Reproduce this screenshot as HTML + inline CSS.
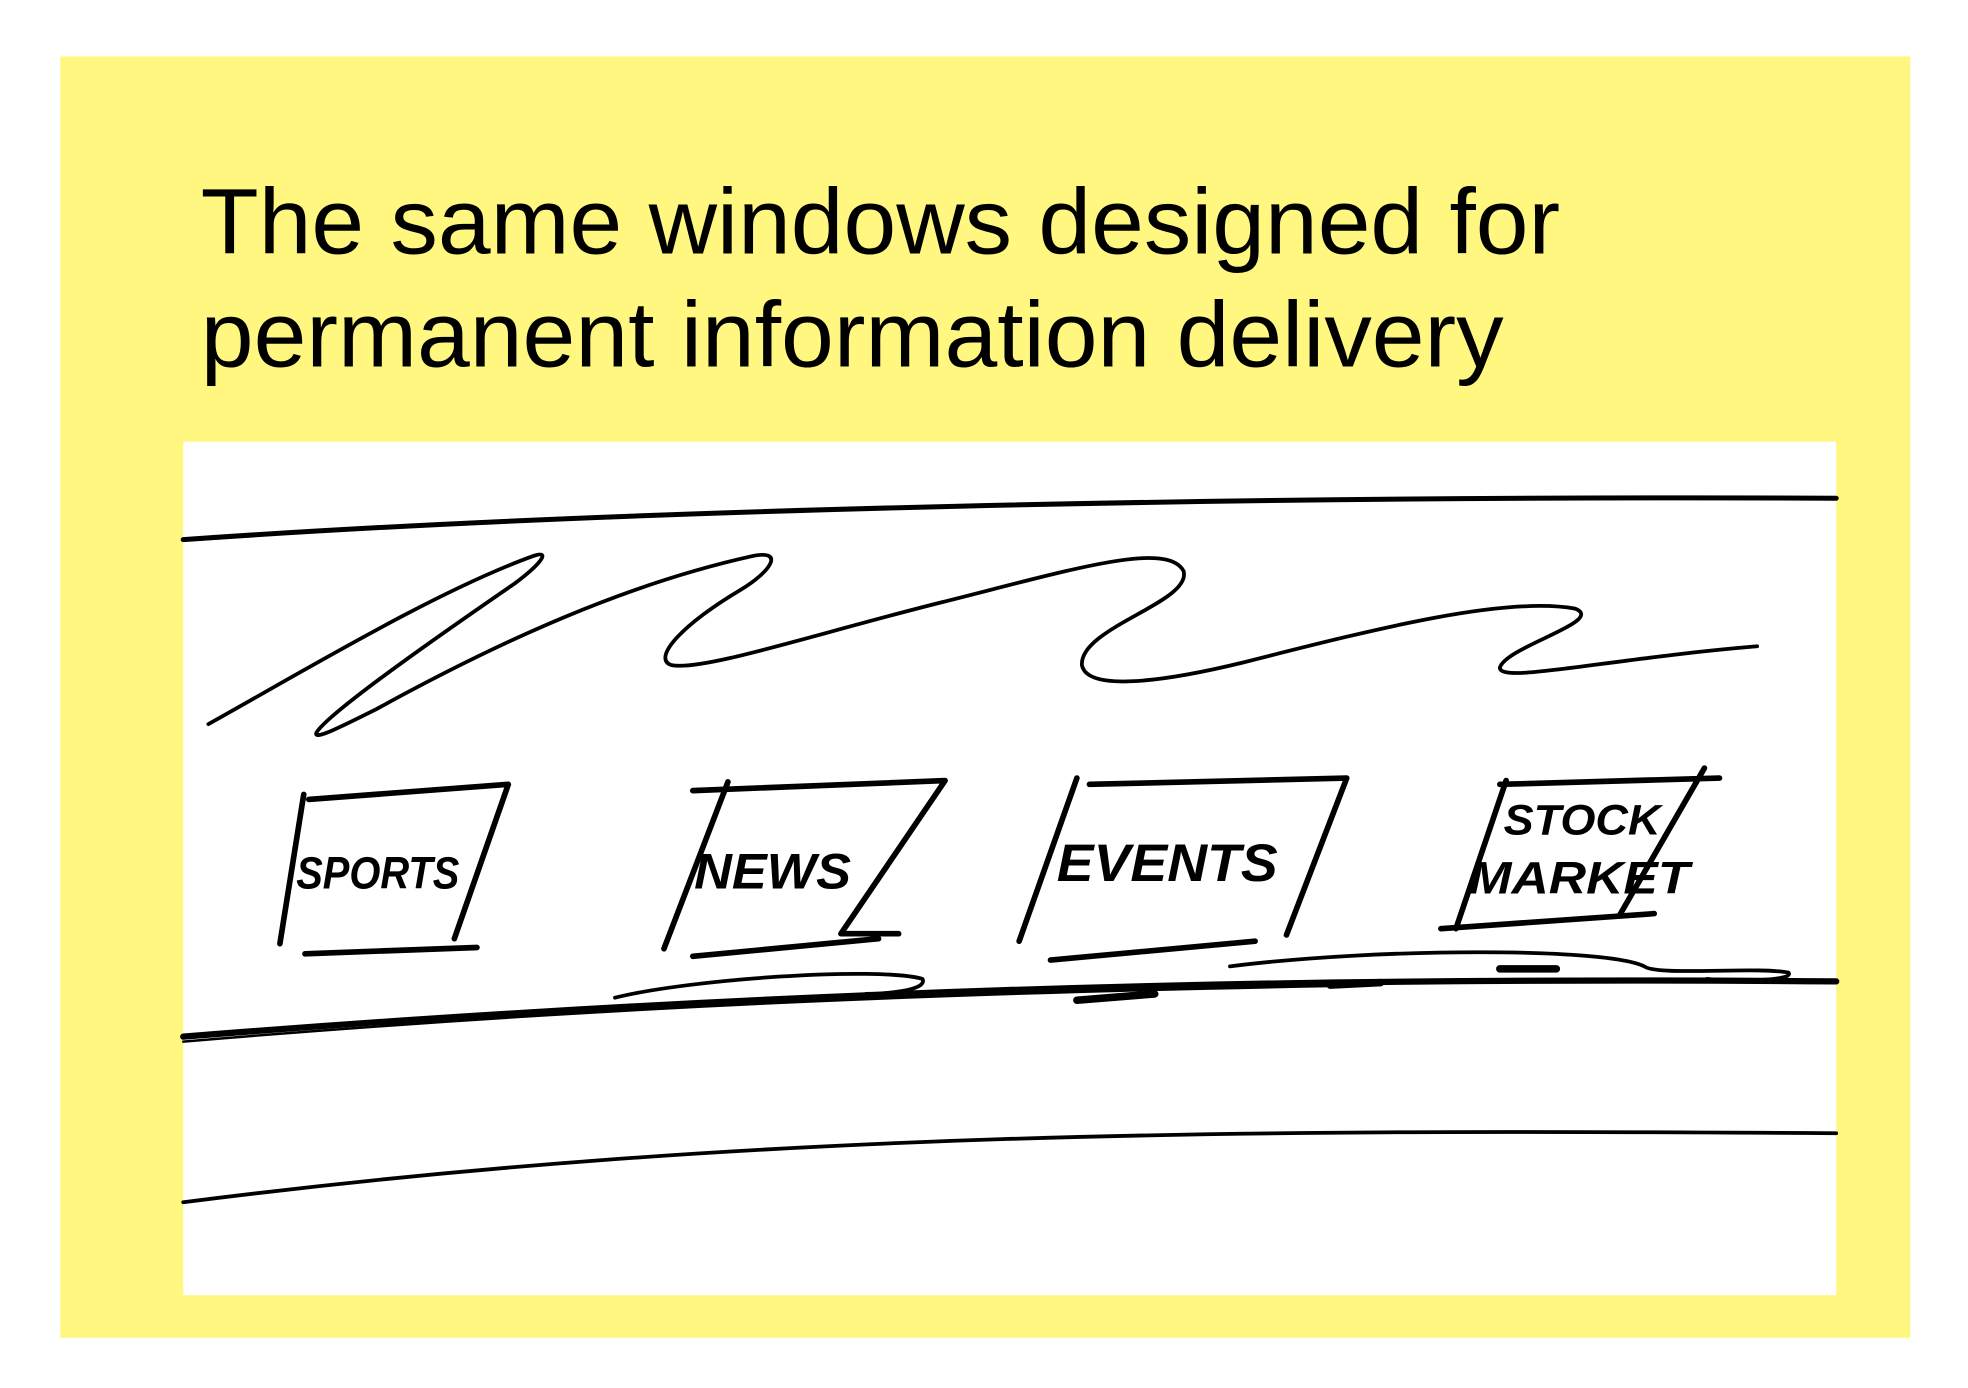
<!DOCTYPE html>
<html><head><meta charset="utf-8"><style>
html,body{margin:0;padding:0;background:#fff;width:1968px;height:1388px;overflow:hidden}
svg{display:block}
</style></head><body>
<svg width="1968" height="1388" viewBox="0 0 1568 1106" preserveAspectRatio="none" xmlns="http://www.w3.org/2000/svg">
<rect x="0" y="0" width="1568" height="1106" fill="#fff"/>
<rect x="48" y="45" width="1474" height="1021" fill="#fff77f"/>
<rect x="146" y="352" width="1317" height="680" fill="#fff"/>
<g font-family="Liberation Sans, Arial, sans-serif" font-size="74" fill="#000">
<text x="160" y="202" textLength="1083" lengthAdjust="spacingAndGlyphs">The same windows designed for</text>
<text x="160" y="292" textLength="1038" lengthAdjust="spacingAndGlyphs">permanent information delivery</text>
</g>
<g fill="none" stroke="#000" stroke-linecap="round" stroke-linejoin="round">
<path d="M146 430 C 500 405, 1000 395, 1463 397" stroke-width="4"/>
<path d="M146 826 C 600 790, 1000 778, 1463 782" stroke-width="5"/>
<path d="M146 830 C 500 800, 800 790, 1100 785" stroke-width="2"/>
<path d="M146 958 C 600 900, 1000 900, 1463 903" stroke-width="3"/>
<path d="M166 577 C 250 530, 350 470, 425 443 C 440 438, 430 450, 410 465 C 330 520, 260 570, 252 584 C 250 590, 270 580, 300 565 C 400 510, 500 465, 600 443 C 625 438, 615 455, 590 470 C 540 500, 520 525, 535 530 C 560 535, 650 505, 750 480 C 850 455, 930 430, 943 455 C 950 480, 860 500, 862 530 C 866 550, 920 545, 990 528 C 1100 500, 1200 475, 1255 485 C 1280 495, 1200 515, 1195 532 C 1195 545, 1280 525, 1400 515" stroke-width="3"/>
<!-- boxes -->
<path d="M242 633 L 223 752 M246 637 L 405 625 L 362 748 M243 760 L 380 755" stroke-width="4.5"/>
<path d="M580 623 L 529 756 M552 630 L 753 622 L 670 744 L 716 744 M552 762 L 700 748" stroke-width="4.5"/>
<path d="M858 620 L 812 750 M868 625 L 1073 620 L 1025 745 M837 765 L 1000 750" stroke-width="4.5"/>
<path d="M1200 622 L 1160 740 M1195 625 L 1370 620 M1358 612 L 1290 730 M1148 740 L 1318 728" stroke-width="4.5"/>
<path d="M490 795 C 550 780, 700 770, 735 780 C 740 790, 700 792, 690 792" stroke-width="3"/>
<path d="M980 770 C 1100 755, 1280 755, 1310 770 C 1320 778, 1400 770, 1425 775 C 1430 782, 1380 782, 1360 780" stroke-width="3"/>
<path d="M858 797 L 920 792 M1195 772 L 1240 772 M1060 785 L 1100 783" stroke-width="6"/>
</g>
<g font-family="Liberation Sans, Arial, sans-serif" font-weight="bold" font-style="italic" fill="#000">
<text x="236" y="708" font-size="36" textLength="130" lengthAdjust="spacingAndGlyphs">SPORTS</text>
<text x="553" y="708" font-size="40" textLength="125" lengthAdjust="spacingAndGlyphs">NEWS</text>
<text x="842" y="702" font-size="42" textLength="176" lengthAdjust="spacingAndGlyphs">EVENTS</text>
<text x="1198" y="665" font-size="34" textLength="125" lengthAdjust="spacingAndGlyphs">STOCK</text>
<text x="1170" y="712" font-size="36" textLength="176" lengthAdjust="spacingAndGlyphs">MARKET</text>
</g>
</svg>
</body></html>
